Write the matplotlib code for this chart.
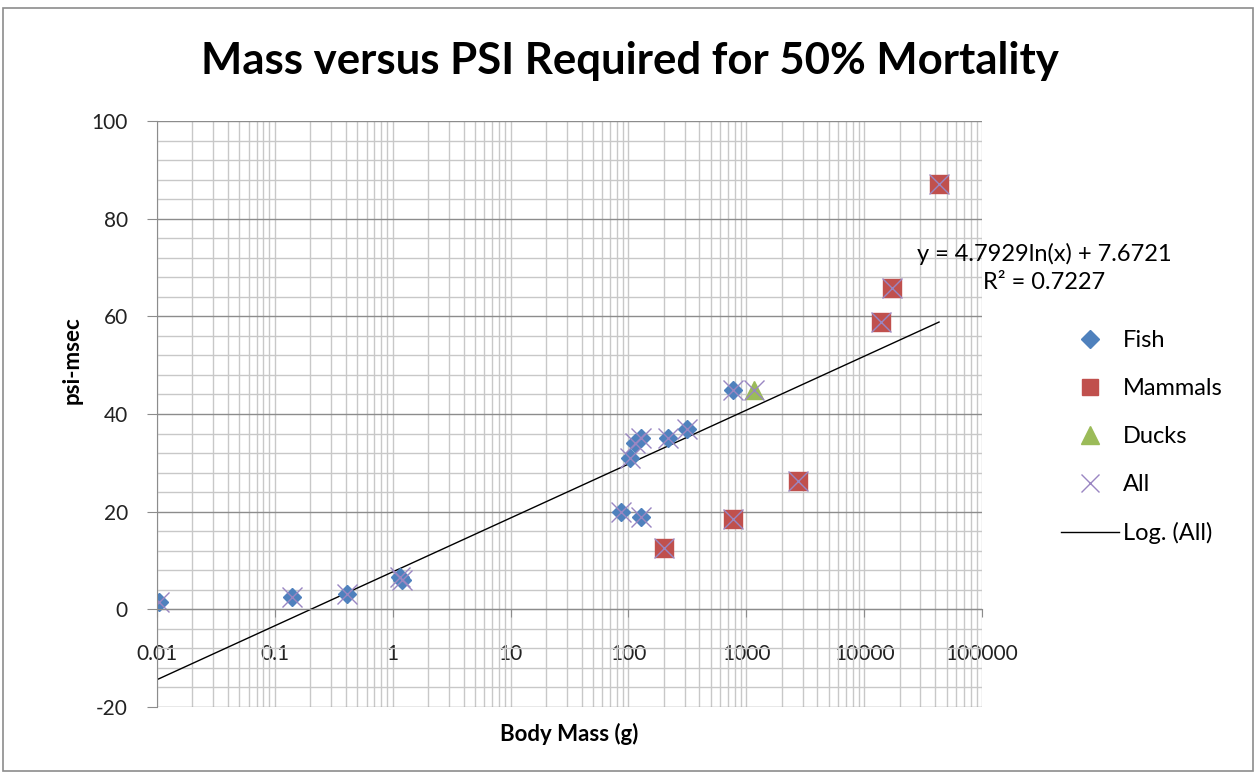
import numpy as np
import matplotlib.pyplot as plt
from matplotlib.lines import Line2D
from matplotlib.patches import Rectangle

plt.rcParams['font.family'] = ['Lato', 'DejaVu Sans']
plt.rcParams['axes.unicode_minus'] = False

# data
fish_mass = [0.0103, 0.139, 0.407, 1.15, 1.2, 87, 103, 113, 127, 127, 217, 315, 773]
fish_psi = [1.5, 2.5, 3.1, 6.7, 6.0, 20, 31, 34, 35, 19, 35, 37, 45]
mammal_mass = [201, 773, 2750, 14000, 17400, 43200]
mammal_psi = [12.6, 18.5, 26.2, 58.8, 65.8, 87]
duck_mass = [1160]
duck_psi = [45]

# logarithmic trendline for "All"
trend_a = 4.7929
trend_b = 7.6721
trend_r2 = 0.7227

x_ticks = [0.01, 0.1, 1, 10, 100, 1000, 10000, 100000]
x_labels = ['0.01', '0.1', '1', '10', '100', '1000', '10000', '100000']
y_ticks = [-20, 0, 20, 40, 60, 80, 100]

all_mass = np.array(fish_mass + mammal_mass + duck_mass)
all_psi = np.array(fish_psi + mammal_psi + duck_psi)

fig = plt.figure(figsize=(12.56, 7.74), dpi=100)
ax = fig.add_axes([157 / 1256, 1 - 707 / 774, (982 - 157) / 1256, (707 - 121) / 774])

ax.set_xscale('log')
ax.set_xlim(0.01, 100000)
ax.set_ylim(-20, 100)

# gridlines
ax.set_yticks(y_ticks)
ax.set_yticks(np.arange(-20, 101, 4), minor=True)
ax.set_xticks(x_ticks)
ax.set_xticklabels(x_labels)
ax.grid(True, which='minor', axis='both', color='#c8c8c8', lw=1)
ax.grid(True, which='major', axis='x', color='#c8c8c8', lw=1)
ax.grid(True, which='major', axis='y', color='#8c8c8c', lw=1)
ax.set_axisbelow(True)

for s in ['top', 'right']:
    ax.spines[s].set_visible(False)
ax.spines['left'].set_color('#8c8c8c')
ax.spines['bottom'].set_color('#8c8c8c')
ax.spines['bottom'].set_position(('data', 0))

ax.tick_params(axis='both', which='minor', length=0)
ax.tick_params(axis='y', which='major', length=7, color='#8c8c8c', labelsize=15, pad=14, labelcolor='#222222')
ax.tick_params(axis='x', which='major', length=6, color='#8c8c8c', labelsize=15, pad=19, labelcolor='#222222')

# trendline
xs = np.logspace(np.log10(all_mass.min()), np.log10(all_mass.max()), 200)
ax.plot(xs, trend_a * np.log(xs) + trend_b, color='black', lw=1)

ax.plot(fish_mass, fish_psi, 'D', color='#4F81BD', ms=9, mec='#4F81BD', ls='none')
ax.plot(mammal_mass, mammal_psi, 's', color='#C0504D', ms=13, mec='#C0504D', ls='none')
ax.plot(duck_mass, duck_psi, '^', color='#9BBB59', ms=13, mec='#9BBB59', ls='none')
ax.plot(all_mass, all_psi, 'x', color='#9a86c2', ms=14, mew=1, ls='none')

ax.set_xlabel('Body Mass (g)', fontsize=16, fontweight='bold')
ax.xaxis.set_label_coords(0.5, -0.028)
ax.set_ylabel('psi-msec', fontsize=16, fontweight='bold')
ax.yaxis.set_label_coords(-0.09, 0.592)

fig.text(630 / 1256, 1 - 61 / 774, 'Mass versus PSI Required for 50% Mortality',
         fontsize=31.5, fontweight='bold', ha='center', va='center')

fig.text(1044 / 1256, 1 - 268 / 774,
         f'y = {trend_a}ln(x) + {trend_b}\nR² = {trend_r2}',
         fontsize=17, ha='center', va='center', linespacing=1.36)

handles = [
    Line2D([], [], marker='D', color='#4F81BD', ls='none', ms=9),
    Line2D([], [], marker='s', color='#C0504D', ls='none', ms=12),
    Line2D([], [], marker='^', color='#9BBB59', ls='none', ms=13),
    Line2D([], [], marker='x', color='#9a86c2', ls='none', ms=13, mew=1),
    Line2D([], [], color='black', lw=1),
]
labels = ['Fish', 'Mammals', 'Ducks', 'All', 'Log. (All)']
fig.legend(handles, labels, loc='upper left', bbox_to_anchor=(1040 / 1256, 1 - 309 / 774),
           frameon=False, fontsize=17, labelspacing=1.14, handlelength=2.45, handletextpad=0.15)

fig.patches.append(Rectangle((0.002, 0.004), 0.996, 0.986, transform=fig.transFigure,
                             fill=False, edgecolor='#8c8c8c', lw=1.2))

fig.savefig('out.png', dpi=100)
